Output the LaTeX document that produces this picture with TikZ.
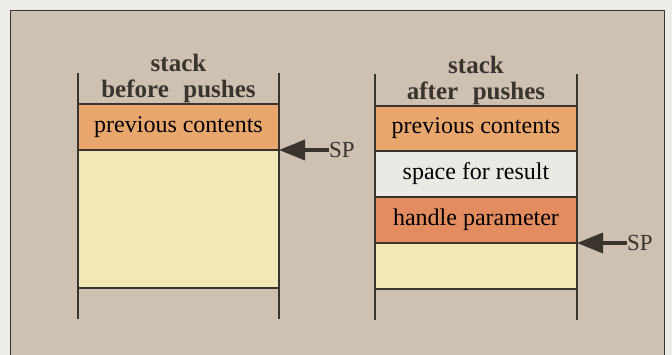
\documentclass[tikz,border=0pt]{standalone}
\usepackage{fontspec}
\setmainfont{Liberation Serif}
\usepackage{xcolor}
\usepackage{tikz}
\usetikzlibrary{arrows.meta, positioning}

\definecolor{page}{HTML}{EEEDE9}
\definecolor{panel}{HTML}{CDC1B1}
\definecolor{ink}{HTML}{3A332E}
\definecolor{oldbox}{HTML}{E9A76E}
\definecolor{parbox}{HTML}{E38C5F}
\definecolor{freebox}{HTML}{F0E9B6}
\definecolor{resbox}{HTML}{EBE9E4}

\begin{document}
\begin{tikzpicture}[
  x=1pt, y=-1pt,
  node distance=0pt,
  cell/.style={rectangle, draw=ink, line width=1.2pt, minimum width=201pt, minimum height=46pt, inner sep=0pt, outer sep=0pt, font=\fontsize{24}{26}\selectfont},
  title/.style={align=center, inner sep=0pt, font=\fontsize{25}{26}\selectfont\bfseries, text=ink},
  wall/.style={draw=ink, line width=1.2pt},
  sparr/.style={-{Triangle[length=26pt, width=20pt]}, line width=3.5pt, draw=ink},
  splabel/.style={anchor=west, inner sep=0pt, font=\fontsize{23}{26}\selectfont, text=ink},
]
\useasboundingbox (0,0) rectangle (672,355);
\fill[page] (0,0) rectangle (672,355);
\fill[panel] (10,11) rectangle (664,355);
\draw[ink, line width=1pt] (10,355) -- (10,11) -- (664,11) -- (664,355);

% before pushes
\draw[wall] (78,73) -- (78,319);
\draw[wall] (279,73) -- (279,319);
\node[cell, fill=oldbox] (prevA) at (178.5,127) {previous contents};
\node[cell, fill=freebox, minimum height=138pt, below=of prevA] (freeA) {};
\node[title, above=1pt of prevA] (titleA) {stack\\before\,\, pushes};
\node[splabel, right=50pt of prevA.south east] (spA) {SP};
\draw[sparr] (spA.west) -- (prevA.south east);

% after pushes
\draw[wall] (375,74) -- (375,320);
\draw[wall] (577,74) -- (577,320);
\node[cell, fill=oldbox, minimum width=202pt, minimum height=45pt] (prevB) at (476,128.5) {previous contents};
\node[cell, fill=resbox, minimum width=202pt, below=of prevB] (resB) {space for result};
\node[cell, fill=parbox, minimum width=202pt, below=of resB] (handB) {handle parameter};
\node[cell, fill=freebox, minimum width=202pt, below=of handB] (freeB) {};
\node[title, above=1pt of prevB] (titleB) {stack\\after\,\, pushes};
\node[splabel, right=50pt of handB.south east] (spB) {SP};
\draw[sparr] (spB.west) -- (handB.south east);
\end{tikzpicture}
\end{document}
